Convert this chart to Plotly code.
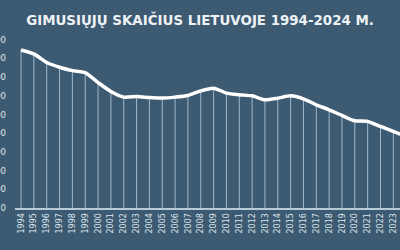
import plotly.graph_objects as go

years = list(range(1994, 2025))
births = [42270, 41200, 38900, 37650, 36750, 36200, 33550, 31150, 29650, 29800,
          29550, 29400, 29650, 30080, 31330, 32050, 30720, 30270, 30000, 28930,
          29380, 30000, 29200, 27600, 26270, 24750, 23330, 23150, 21800, 20480,
          19100]
y_ticks = [0, 5000, 10000, 15000, 20000, 25000, 30000, 35000, 40000, 45000]
title_text = "GIMUSIŲJŲ SKAIČIUS LIETUVOJE 1994-2024 M."

bg = "#3c5a72"
txt = "#dfe7ee"

drop_x, drop_y = [], []
for yr, v in zip(years, births):
    drop_x += [yr, yr, None]
    drop_y += [0, v, None]

fig = go.Figure()
fig.add_trace(go.Scatter(x=drop_x, y=drop_y, mode="lines",
                         line=dict(color="rgba(195,215,232,0.75)", width=1),
                         hoverinfo="skip", showlegend=False))
fig.add_trace(go.Scatter(x=years, y=births, mode="lines",
                         line=dict(color="#ffffff", width=3.5, shape="spline", smoothing=0.6),
                         showlegend=False))

fig.update_layout(
    width=400, height=250,
    margin=dict(l=15, r=0, t=36, b=41.5, autoexpand=False),
    paper_bgcolor=bg, plot_bgcolor=bg,
    title=dict(text=title_text, x=0.5, xanchor="center", y=0.92, yanchor="middle",
               font=dict(family="DejaVu Sans", size=13.4, color="#eef2f5", weight="bold")),
    xaxis=dict(range=[1993.53, 2023.52], tickvals=years, ticktext=[str(y) for y in years],
               tickangle=-90, tickfont=dict(family="DejaVu Sans", size=8, color=txt),
               showgrid=False, zeroline=False, showline=True, linecolor="#b7cad8",
               linewidth=2, ticks="", automargin=False),
    yaxis=dict(range=[0, 46000], tickvals=y_ticks, ticktext=[str(v) for v in y_ticks],
               tickfont=dict(family="DejaVu Sans", size=8.5, color=txt),
               showgrid=False, zeroline=False, showline=False, ticks="",
               ticklabelstandoff=8, automargin=False),
)

fig.write_html("out.html")
